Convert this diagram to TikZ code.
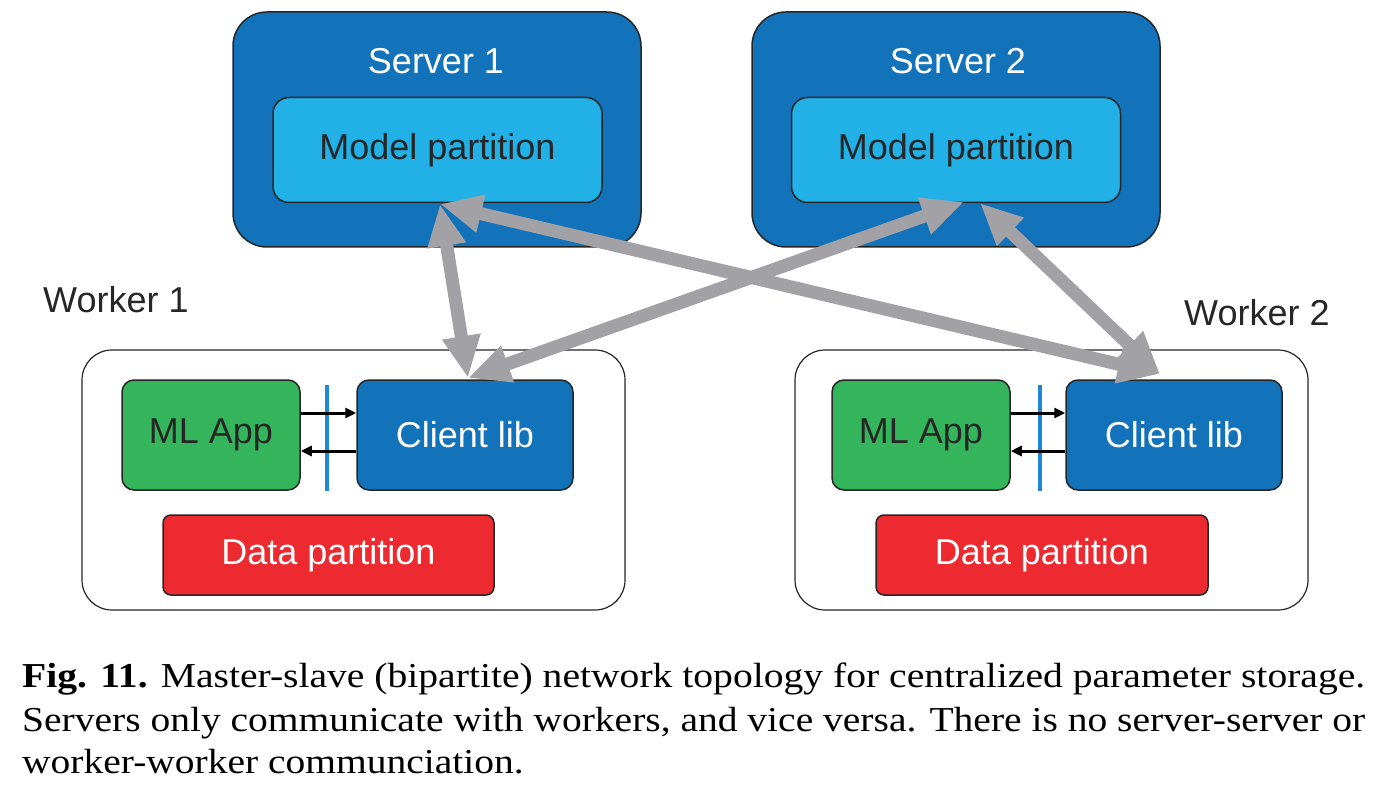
\documentclass[tikz,border=0pt]{standalone}
\usepackage{fontspec}
\setmainfont{Liberation Sans}
\newfontfamily\capfont{Liberation Serif}
\usetikzlibrary{arrows.meta}
\definecolor{dblue}{HTML}{1272BA}
\definecolor{lblue}{HTML}{22B1E7}
\definecolor{mlgreen}{HTML}{34B45B}
\definecolor{datared}{HTML}{EC2A2F}
\definecolor{agray}{HTML}{A1A1A6}
\definecolor{sepblue}{HTML}{1E88D6}
\definecolor{txtdark}{HTML}{262626}
\newsavebox{\capboxb}
\newcommand{\capsize}{\capfont\fontsize{35}{43}\selectfont}
\begin{document}
\begin{tikzpicture}[x=1pt,y=-1pt,
  font=\fontsize{36}{40}\selectfont,
  serverbox/.style={draw=black!85, line width=1.5pt, fill=dblue, rounded corners=34pt, minimum width=408pt, minimum height=235pt, inner sep=0pt},
  modelbox/.style={draw=black!85, line width=1.5pt, fill=lblue, rounded corners=16pt, minimum width=329pt, minimum height=105pt, inner sep=0pt, text=txtdark},
  workerbox/.style={draw=black!85, line width=1.2pt, fill=white, rounded corners=30pt, minimum height=260pt, inner sep=0pt},
  appbox/.style={draw=black!85, line width=1.5pt, fill=mlgreen, rounded corners=12pt, minimum width=178pt, minimum height=110pt, inner sep=0pt, text=txtdark},
  clientbox/.style={draw=black!85, line width=1.5pt, fill=dblue, rounded corners=12pt, minimum width=216pt, minimum height=110pt, inner sep=0pt, text=white},
  databox/.style={draw=black!85, line width=1.5pt, fill=datared, rounded corners=8pt, minimum height=80pt, inner sep=0pt, text=white},
  lbl/.style={inner sep=0pt, anchor=base},
  garrow/.style={draw=agray, line width=13pt, {Triangle[length=42pt,width=36pt]}-{Triangle[length=42pt,width=36pt]}},
  smallarrow/.style={draw=black, line width=3pt, -{Triangle[length=11pt,width=10pt]}},
  sepline/.style={draw=sepblue, line width=4pt},
  capline/.style={inner sep=0pt, anchor=base west, text=black}
]
\useasboundingbox (0,0) rectangle (1380,786);

% Servers
\node[serverbox] (s1) at (437,129.5) {};
\node[serverbox] (s2) at (956,129.5) {};
\node[lbl, text=white] (s1t) at (436,74) {Server 1};
\node[lbl, text=white] (s2t) at (958,74) {Server 2};
\node[modelbox] (m1) at (437.5,150) {Model partition};
\node[modelbox] (m2) at (956,150) {Model partition};

% Workers
\node[lbl, anchor=base west, text=txtdark] (w1t) at (43,312) {Worker 1};
\node[lbl, anchor=base west, text=txtdark] (w2t) at (1184,325) {Worker 2};
\node[workerbox, minimum width=543pt] (w1) at (353.5,480) {};
\node[workerbox, minimum width=513pt] (w2) at (1051.5,480) {};

\node[appbox] (a1) at (211,435) {ML App};
\node[clientbox] (c1) at (465,435) {Client lib};
\node[appbox] (a2) at (921,435) {ML App};
\node[clientbox] (c2) at (1174,435) {Client lib};
\node[databox, minimum width=331pt] (d1) at (328.5,555) {Data partition};
\node[databox, minimum width=332pt] (d2) at (1042,555) {Data partition};

% separators and local arrows
\coordinate (sep1t) at (327,385);
\coordinate (sep1b) at (327,491);
\coordinate (sep2t) at (1040,385);
\coordinate (sep2b) at (1040,491);
\draw[sepline] (sep1t) -- (sep1b);
\draw[sepline] (sep2t) -- (sep2b);
\draw[smallarrow] (a1.east |- 0,413) -- (c1.west |- 0,413);
\draw[smallarrow] (c1.west |- 0,451) -- (a1.east |- 0,451);
\draw[smallarrow] (a2.east |- 0,413) -- (c2.west |- 0,413);
\draw[smallarrow] (c2.west |- 0,451) -- (a2.east |- 0,451);

% gray communication arrows
\coordinate (m1p) at (440,204);
\coordinate (m2l) at (964,202);
\coordinate (m2r) at (980,203);
\coordinate (c1p) at (468,378);
\coordinate (c2p) at (1160,374);
\draw[garrow] (m1p) -- (c1p);
\draw[garrow] (m2l) -- (c1p);
\draw[garrow] (m1p) -- (c2p);
\draw[garrow] (m2r) -- (c2p);

% caption
\node[capline] (cap1) at (22,687) {\resizebox{1343pt}{\height}{\capsize\textbf{Fig. 11.} Master-slave (bipartite) network topology for centralized parameter storage.}};
\node[capline] (cap2) at (22,731) {\resizebox{1343pt}{\height}{\capsize Servers only communicate with workers, and vice versa. There is no server-server or}};
\node[capline] (cap3) at (22,773) {\sbox{\capboxb}{\capsize Servers only communicate with workers, and vice versa. There is no server-server or}\scalebox{\fpeval{1343/\the\wd\capboxb}}[1]{\capsize worker-worker communciation.}};
\end{tikzpicture}
\end{document}
